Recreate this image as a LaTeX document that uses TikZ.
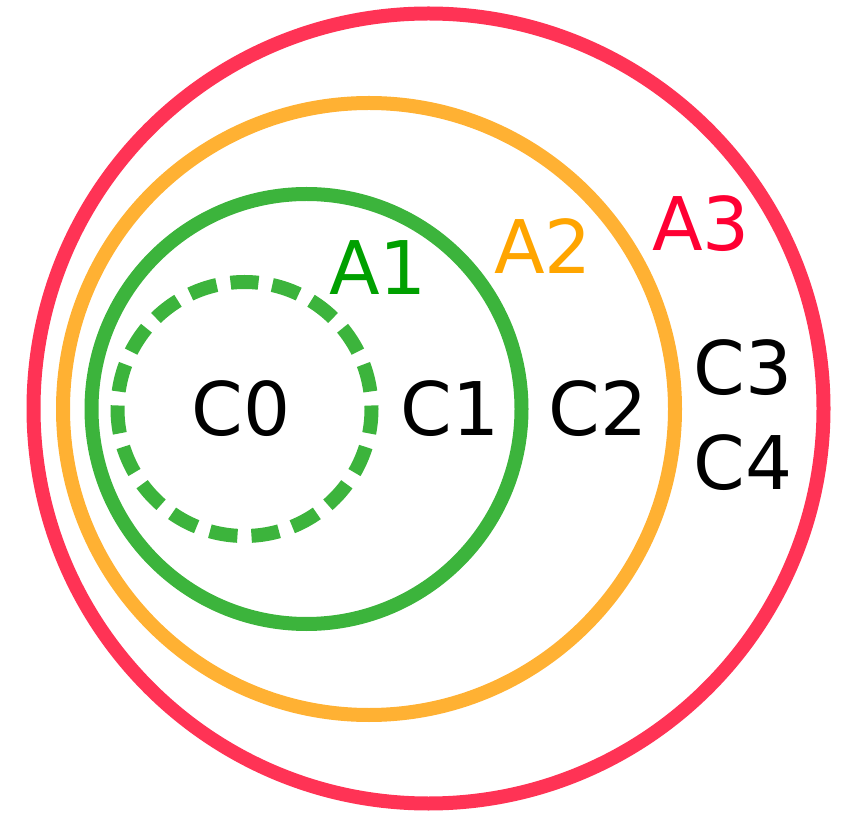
\documentclass[tikz,border=0pt]{standalone}
\usepackage{fontspec}
\setmainfont{DejaVu Sans}
\definecolor{rojo}{RGB}{255,51,85}
\definecolor{naranja}{RGB}{255,177,51}
\definecolor{verde}{RGB}{60,180,60}
\definecolor{rojotxt}{RGB}{255,0,51}
\definecolor{naranjatxt}{RGB}{255,165,0}
\definecolor{verdetxt}{RGB}{0,160,0}
\tikzset{
  anillo/.style={line width=14pt},
  etiqueta/.style={inner sep=0pt, font=\fontsize{74}{80}\selectfont},
}
\begin{document}
\begin{tikzpicture}[x=1pt, y=1pt]
    \useasboundingbox (0, 0) rectangle (843, 812);

    % Círculos anidados
    \draw[anillo, rojo] (428.5, 403.5) circle (395);
    \draw[anillo, naranja] (369, 403) circle (306);
    \draw[anillo, verde] (306.5, 403) circle (215);
    \draw[anillo, verde, dash pattern=on 28pt off 14pt, dash phase=24.5pt] (244.5, 403) circle (127);

    % Etiquetas de las regiones
    \node[etiqueta, verdetxt] (a1) at (378, 544) {A1};
    \node[etiqueta, naranjatxt] (a2) at (543, 566) {A2};
    \node[etiqueta, rojotxt] (a3) at (701, 588) {A3};

    % Clases
    \node[etiqueta] (c0) at (241, 403) {C0};
    \node[etiqueta] (c1) at (450, 403.5) {C1};
    \node[etiqueta] (c2) at (598, 403.5) {C2};
    \node[etiqueta] (c3) at (743, 444) {C3};
    \node[etiqueta] (c4) at (743, 349) {C4};
  \end{tikzpicture}
\end{document}
